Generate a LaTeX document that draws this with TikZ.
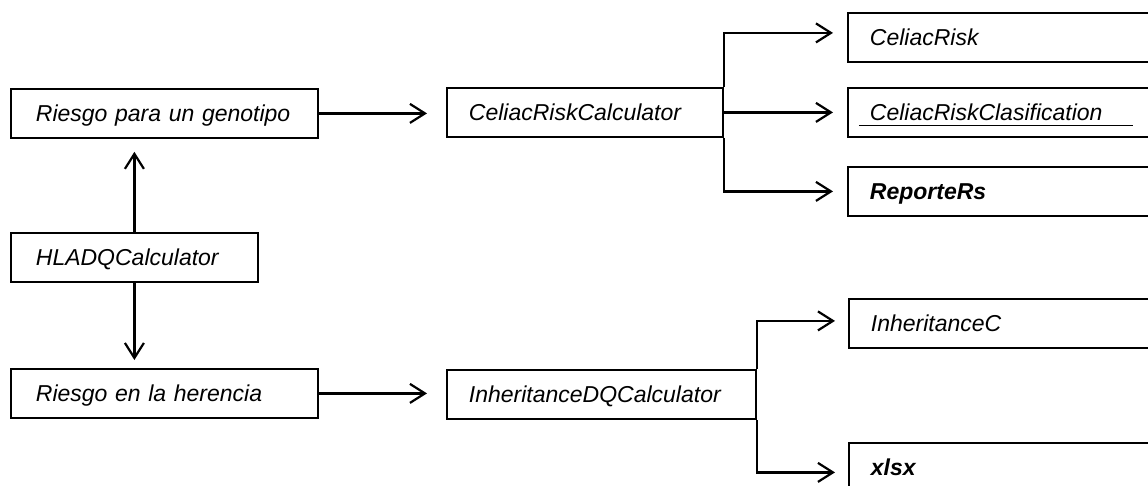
\documentclass[tikz,border=0pt]{standalone}
\usepackage{fontspec}
\setmainfont{Liberation Sans}
\usetikzlibrary{arrows.meta}
\begin{document}
\begin{tikzpicture}[x=1pt,y=-1pt,
  box/.style={draw, line width=1.8pt, rectangle, anchor=north west, inner ysep=0pt,
    minimum height=49pt, text height=16.5pt, text depth=0pt, align=left,
    font=\fontsize{23}{27}\selectfont\itshape},
  lbox/.style={box, inner xsep=25pt},
  rbox/.style={box, inner xsep=22pt},
  arr/.style={line width=2.2pt, -{Straight Barb[length=15pt,width=19pt]}}
]
\path[use as bounding box] (0,0) rectangle (1148,485);
\clip (0,0) rectangle (1148,485);

% left column
\node[lbox, text width=257pt] (r1) at (10,88) {\mbox{Riesgo para un genotipo}};
\node[lbox, text width=197pt] (hla) at (10,232) {\mbox{HLADQCalculator}};
\node[lbox, text width=257pt] (r2) at (10,368) {\mbox{Riesgo en la herencia}};

% middle column
\node[rbox, text width=232pt] (crc) at (446,87) {\mbox{CeliacRiskCalculator}};
\node[rbox, text width=265pt] (idq) at (446,369) {\mbox{InheritanceDQCalculator}};

% right column
\node[rbox, text width=290pt] (cr) at (847,12) {\mbox{CeliacRisk}};
\node[rbox, text width=290pt] (crcl) at (847,87) {\mbox{\hspace*{-11pt}\rlap{\rule[-5pt]{274pt}{0.9pt}}\hspace*{11pt}CeliacRiskClasification}};
\node[rbox, text width=290pt] (rep) at (847,166) {\mbox{\bfseries ReporteRs}};
\node[rbox, text width=290pt] (inh) at (848,298) {\mbox{InheritanceC}};
\node[rbox, text width=290pt] (xl) at (848,442) {\mbox{\bfseries xlsx}};

% vertical arrows
\draw[arr, shorten >=13pt] (hla.north) -- (hla.north |- r1.south);
\draw[arr, shorten >=8pt] (hla.south) -- (hla.south |- r2.north);

% horizontal arrows
\draw[arr, shorten >=19pt] (r1.east) -- (r1.east -| crc.west);
\draw[arr, shorten >=19pt] (r2.east) -- (r2.east -| idq.west);

% branches
\draw[arr] (crc.north east) |- ([xshift=-14pt,yshift=4.5pt]cr.west);
\draw[arr] (crc.east) -- ([xshift=-14pt]crc.east -| crcl.west);
\draw[arr] (crc.south east) |- ([xshift=-14pt]rep.west);
\draw[arr] (idq.north east) |- ([xshift=-13pt,yshift=2.5pt]inh.west);
\draw[arr] (idq.south east) |- ([xshift=-13pt,yshift=-5pt]xl.west);
\end{tikzpicture}
\end{document}
